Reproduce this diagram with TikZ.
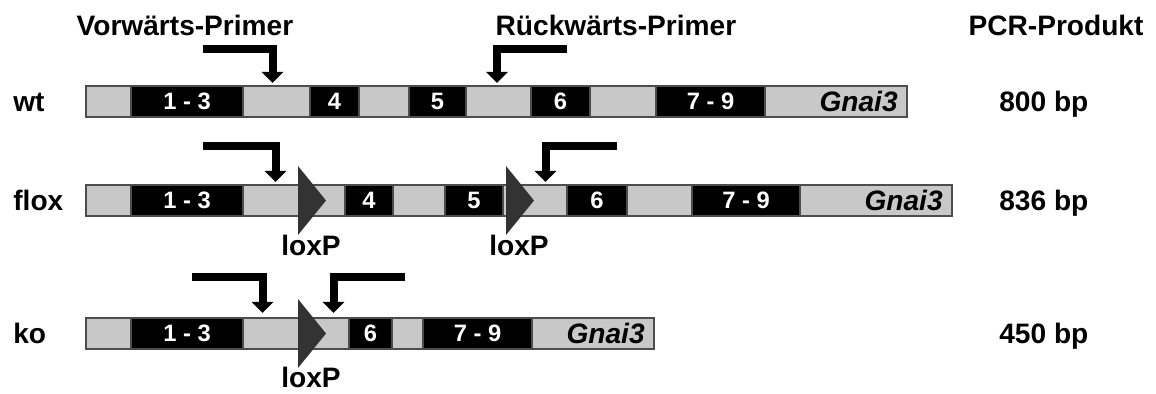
\documentclass[tikz,border=0pt]{standalone}
\usepackage{fontspec}
\setmainfont{Liberation Sans}
\usepackage{tikz}
\usetikzlibrary{arrows.meta}
\usepackage{xcolor}

\definecolor{introngrey}{HTML}{C8C8C8}
\definecolor{barline}{HTML}{4D4D4D}
\definecolor{loxgrey}{HTML}{333333}

\begin{document}
\begin{tikzpicture}[
    x=0.02cm, y=-0.02cm,
    intron/.style={draw=barline, fill=introngrey, line width=1.2pt},
    exon/.style={draw=barline, fill=black, line width=1.2pt},
    exonlabel/.style={text=white, font=\fontsize{13.5}{15}\selectfont\bfseries, inner sep=0pt},
    genelabel/.style={font=\fontsize{16}{19}\selectfont\bfseries\itshape, inner sep=0pt, anchor=east},
    head/.style={font=\fontsize{16}{19}\selectfont\bfseries, inner sep=0pt},
    primer/.style={line width=0.16cm, -{Triangle[width=0.42cm,length=0.22cm]}},
    loxp/.style={fill=loxgrey}
]
    \useasboundingbox (0,0) rectangle (1156,394);

    % Headings
    \node[head, anchor=base] (fwd) at (185,36) {Vorwärts-Primer};
    \node[head, anchor=base] (rev) at (616,36) {Rückwärts-Primer};
    \node[head, anchor=base] (pcr) at (1056,36) {PCR-Produkt};

    % wt allele
    \node[head, anchor=base west] (wt) at (13,112) {wt};
    \draw[intron] (86,86) rectangle (907,117);
    \draw[exon] (131,86) rectangle node[exonlabel] (wt13) {1 - 3} (243,117);
    \draw[exon] (310,86) rectangle node[exonlabel] (wt4) {4} (359,117);
    \draw[exon] (409,86) rectangle node[exonlabel] (wt5) {5} (466,117);
    \draw[exon] (531,86) rectangle node[exonlabel] (wt6) {6} (590,117);
    \draw[exon] (656,86) rectangle node[exonlabel] (wt79) {7 - 9} (765,117);
    \node[genelabel] (wtgene) at (898,101.5) {Gnai3};
    \node[head, anchor=base west] (wtbp) at (999,112) {800 bp};
    % wt primers
    \coordinate (wtFs) at (203,49);
    \coordinate (wtFe) at (272.5,83);
    \coordinate (wtRs) at (567,49);
    \coordinate (wtRe) at (497,83);
    \draw[primer] (wtFs) -| (wtFe);
    \draw[primer] (wtRs) -| (wtRe);

    % flox allele
    \node[head, anchor=base west] (flox) at (13,211) {flox};
    \draw[intron] (86,185) rectangle (952,216);
    \draw[exon] (131,185) rectangle node[exonlabel] (fl13) {1 - 3} (243,216);
    \draw[exon] (345,185) rectangle node[exonlabel] (fl4) {4} (393,216);
    \draw[exon] (445,185) rectangle node[exonlabel] (fl5) {5} (503,216);
    \draw[exon] (567,185) rectangle node[exonlabel] (fl6) {6} (627,216);
    \draw[exon] (692,185) rectangle node[exonlabel] (fl79) {7 - 9} (800,216);
    \node[genelabel] (flgene) at (943,200.5) {Gnai3};
    \node[head, anchor=base west] (flbp) at (999,211) {836 bp};
    % loxP sites
    \fill[loxp] (298,166) -- (326,200.5) -- (298,235) -- cycle;
    \fill[loxp] (506,166) -- (534,200.5) -- (506,235) -- cycle;
    \node[head, anchor=base] (flA) at (311,256) {loxP};
    \node[head, anchor=base] (flB) at (519,256) {loxP};
    % flox primers
    \coordinate (flFs) at (203,146);
    \coordinate (flFe) at (275.5,182);
    \coordinate (flRs) at (617,146);
    \coordinate (flRe) at (545.5,182);
    \draw[primer] (flFs) -| (flFe);
    \draw[primer] (flRs) -| (flRe);

    % ko allele
    \node[head, anchor=base west] (ko) at (13,344) {ko};
    \draw[intron] (86,318) rectangle (654,349);
    \draw[exon] (131,318) rectangle node[exonlabel] (ko13) {1 - 3} (243,349);
    \draw[exon] (349,318) rectangle node[exonlabel] (ko6) {6} (392,349);
    \draw[exon] (423,318) rectangle node[exonlabel] (ko79) {7 - 9} (532,349);
    \node[genelabel] (kogene) at (645,333.5) {Gnai3};
    \node[head, anchor=base west] (kobp) at (999,344) {450 bp};
    % loxP site
    \fill[loxp] (298,299) -- (326,333.5) -- (298,368) -- cycle;
    \node[head, anchor=base] (koA) at (311,388) {loxP};
    % ko primers
    \coordinate (koFs) at (192,277);
    \coordinate (koFe) at (262.5,313);
    \coordinate (koRs) at (405,277);
    \coordinate (koRe) at (333.5,313);
    \draw[primer] (koFs) -| (koFe);
    \draw[primer] (koRs) -| (koRe);
\end{tikzpicture}
\end{document}
